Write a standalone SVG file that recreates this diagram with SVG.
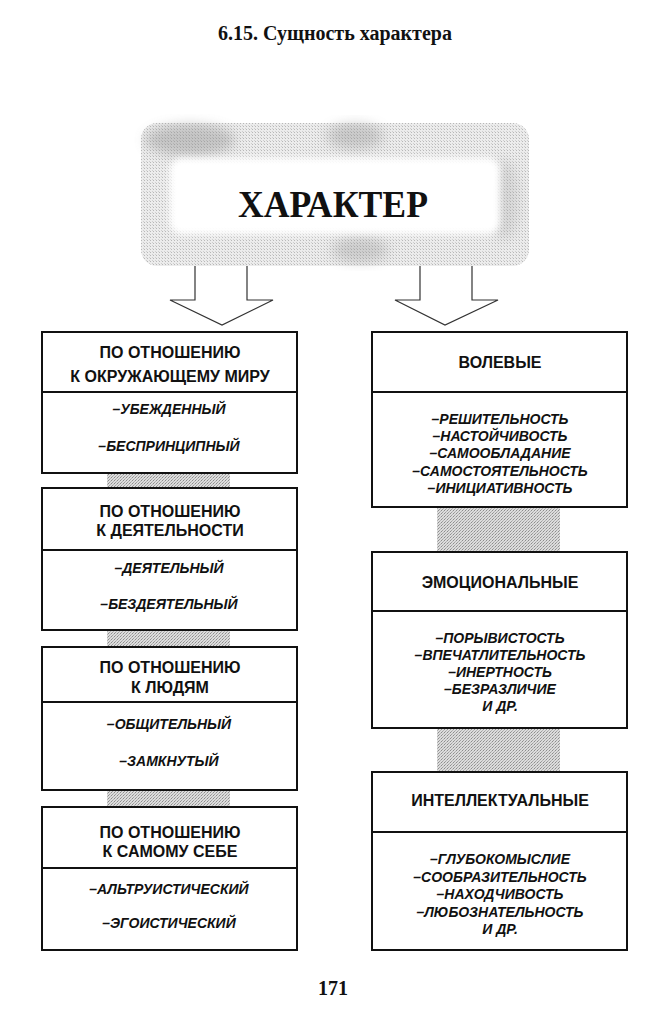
<svg xmlns="http://www.w3.org/2000/svg" width="666" height="1027" viewBox="0 0 666 1027">
<style>
.ttl{font-family:"Liberation Serif","Times New Roman",serif;font-weight:bold;fill:#111;text-anchor:middle}
.box{fill:#fff;stroke:#111;stroke-width:2}
.div{stroke:#111;stroke-width:2}
.hd{font-family:"Liberation Sans",Arial,sans-serif;font-weight:bold;font-size:16px;fill:#111;text-anchor:middle}
.it{font-family:"Liberation Sans",Arial,sans-serif;font-weight:bold;font-style:italic;font-size:14px;fill:#111;text-anchor:middle}
.bar{fill:url(#ht)}
.arrow{fill:#fff;stroke:#333;stroke-width:1.2;stroke-linejoin:miter}
</style>
<defs>
<pattern id="ht" patternUnits="userSpaceOnUse" width="3" height="3">
<rect width="3" height="3" fill="#dcdcdc"/>
<rect x="0" y="0" width="1" height="1" fill="#8c8c8c"/>
<rect x="2" y="1" width="1" height="1" fill="#b4b4b4"/>
<rect x="1" y="2" width="1" height="1" fill="#a0a0a0"/>
</pattern>
<pattern id="htl" patternUnits="userSpaceOnUse" width="3" height="3">
<rect width="3" height="3" fill="#ececec"/>
<rect x="0" y="0" width="1" height="1" fill="#b8b8b8"/>
<rect x="2" y="2" width="1" height="1" fill="#cfcfcf"/>
</pattern>
<filter id="blur" x="-30%" y="-30%" width="160%" height="160%"><feGaussianBlur stdDeviation="6"/></filter>
<filter id="soft" x="-10%" y="-10%" width="120%" height="120%"><feGaussianBlur stdDeviation="3"/></filter>
</defs>
<rect width="666" height="1027" fill="#fff"/>
<text class="ttl" x="335" y="40" font-size="20">6.15. Сущность характера</text>

<g id="node-character">
<rect x="141" y="123" width="388" height="143" rx="16" fill="url(#htl)"/>
<ellipse cx="190" cy="140" rx="45" ry="16" fill="#8a8a8a" opacity="0.4" filter="url(#blur)"/>
<ellipse cx="355" cy="136" rx="28" ry="13" fill="#8a8a8a" opacity="0.35" filter="url(#blur)"/>
<ellipse cx="360" cy="250" rx="28" ry="13" fill="#8a8a8a" opacity="0.3" filter="url(#blur)"/>
<ellipse cx="505" cy="200" rx="14" ry="40" fill="#9a9a9a" opacity="0.25" filter="url(#blur)"/>
<rect x="170" y="158" width="330" height="76" rx="12" fill="#fff" filter="url(#soft)"/>
<text class="ttl" x="333" y="217" font-size="38" textLength="190" lengthAdjust="spacingAndGlyphs">ХАРАКТЕР</text>
</g>

<g id="connectors">
<path class="arrow" d="M195,266 V300 H170 L222,325 L273,300 H247 V266"/>
<path class="arrow" d="M420,266 V300 H395 L445,325 L498,300 H472 V266"/>
<rect class="bar" x="107" y="474" width="123" height="14"/>
<rect class="bar" x="107" y="631" width="123" height="16"/>
<rect class="bar" x="107" y="791" width="123" height="16"/>
<rect class="bar" x="437" y="508" width="123" height="44"/>
<rect class="bar" x="437" y="729" width="123" height="43"/>
</g>

<g id="node-world">
<rect class="box" x="42" y="332" width="255" height="141"/>
<line class="div" x1="42" y1="392" x2="297" y2="392"/>
<text class="hd" x="170" y="358">ПО ОТНОШЕНИЮ</text>
<text class="hd" x="170" y="382">К ОКРУЖАЮЩЕМУ МИРУ</text>
<text class="it" x="169" y="414">–УБЕЖДЕННЫЙ</text>
<text class="it" x="169" y="451">–БЕСПРИНЦИПНЫЙ</text>
</g>

<g id="node-activity">
<rect class="box" x="42" y="488" width="255" height="142"/>
<line class="div" x1="42" y1="550" x2="297" y2="550"/>
<text class="hd" x="170" y="517">ПО ОТНОШЕНИЮ</text>
<text class="hd" x="170" y="536">К ДЕЯТЕЛЬНОСТИ</text>
<text class="it" x="169" y="573">–ДЕЯТЕЛЬНЫЙ</text>
<text class="it" x="169" y="609">–БЕЗДЕЯТЕЛЬНЫЙ</text>
</g>

<g id="node-people">
<rect class="box" x="42" y="647" width="255" height="143"/>
<line class="div" x1="42" y1="702" x2="297" y2="702"/>
<text class="hd" x="170" y="673">ПО ОТНОШЕНИЮ</text>
<text class="hd" x="170" y="693">К ЛЮДЯМ</text>
<text class="it" x="169" y="729">–ОБЩИТЕЛЬНЫЙ</text>
<text class="it" x="169" y="766">–ЗАМКНУТЫЙ</text>
</g>

<g id="node-self">
<rect class="box" x="42" y="807" width="255" height="143"/>
<line class="div" x1="42" y1="868" x2="297" y2="868"/>
<text class="hd" x="170" y="838">ПО ОТНОШЕНИЮ</text>
<text class="hd" x="170" y="857">К САМОМУ СЕБЕ</text>
<text class="it" x="169" y="894">–АЛЬТРУИСТИЧЕСКИЙ</text>
<text class="it" x="169" y="928">–ЭГОИСТИЧЕСКИЙ</text>
</g>

<g id="node-volitional">
<rect class="box" x="372" y="332" width="255" height="175"/>
<line class="div" x1="372" y1="392" x2="627" y2="392"/>
<text class="hd" x="500" y="368">ВОЛЕВЫЕ</text>
<text class="it" x="500" y="424">–РЕШИТЕЛЬНОСТЬ</text>
<text class="it" x="500" y="441">–НАСТОЙЧИВОСТЬ</text>
<text class="it" x="500" y="458">–САМООБЛАДАНИЕ</text>
<text class="it" x="500" y="476">–САМОСТОЯТЕЛЬНОСТЬ</text>
<text class="it" x="500" y="493">–ИНИЦИАТИВНОСТЬ</text>
</g>

<g id="node-emotional">
<rect class="box" x="372" y="552" width="255" height="176"/>
<line class="div" x1="372" y1="611" x2="627" y2="611"/>
<text class="hd" x="500" y="588">ЭМОЦИОНАЛЬНЫЕ</text>
<text class="it" x="500" y="643">–ПОРЫВИСТОСТЬ</text>
<text class="it" x="500" y="660">–ВПЕЧАТЛИТЕЛЬНОСТЬ</text>
<text class="it" x="500" y="677">–ИНЕРТНОСТЬ</text>
<text class="it" x="500" y="694">–БЕЗРАЗЛИЧИЕ</text>
<text class="it" x="500" y="711">И ДР.</text>
</g>

<g id="node-intellectual">
<rect class="box" x="372" y="772" width="255" height="178"/>
<line class="div" x1="372" y1="832" x2="627" y2="832"/>
<text class="hd" x="500" y="806">ИНТЕЛЛЕКТУАЛЬНЫЕ</text>
<text class="it" x="500" y="864">–ГЛУБОКОМЫСЛИЕ</text>
<text class="it" x="500" y="882">–СООБРАЗИТЕЛЬНОСТЬ</text>
<text class="it" x="500" y="899">–НАХОДЧИВОСТЬ</text>
<text class="it" x="500" y="917">–ЛЮБОЗНАТЕЛЬНОСТЬ</text>
<text class="it" x="500" y="934">И ДР.</text>
</g>

<text class="ttl" x="333" y="995" font-size="20">171</text>
</svg>
